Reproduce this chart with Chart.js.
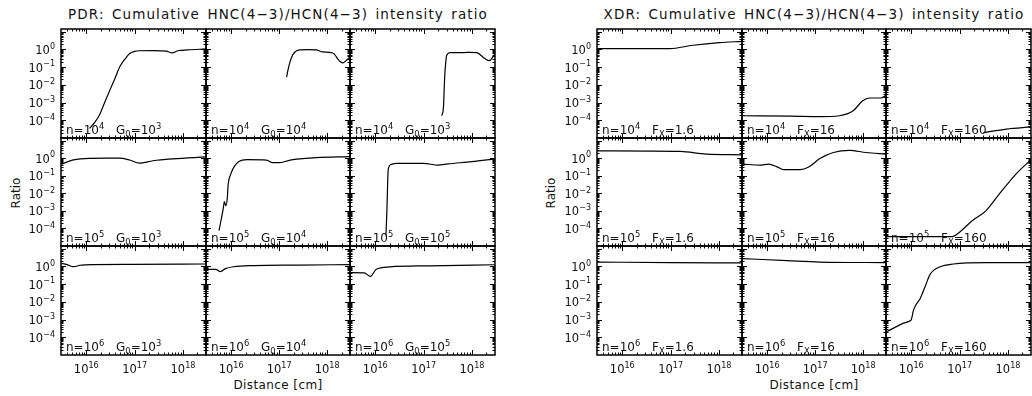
<!DOCTYPE html>
<html>
<head>
<meta charset="utf-8">
<script src="https://cdn.jsdelivr.net/npm/chart.js@4.4.1/dist/chart.umd.min.js"></script>
<style>
  body { margin: 0; background: #fff; }
  #wrap { position: relative; width: 1032px; height: 396px; overflow: hidden; background: #fff;
          font-family: "DejaVu Sans", sans-serif; color: #000; }
  #wrap canvas { position: absolute; }
  .title { position: absolute; top: 6px; width: 520px; text-align: center; font-size: 13.5px;
           letter-spacing: 1.1px; word-spacing: 2px; white-space: nowrap; line-height: 16px; color: #111; }
  .ylab { position: absolute; font-size: 12px; white-space: nowrap; color: #111;
          transform: translate(-50%, -50%) rotate(-90deg); }
  .xlab { position: absolute; font-size: 12px; white-space: nowrap; transform: translate(-50%, -50%);
          letter-spacing: 0.4px; color: #111; }
</style>
</head>
<body>
<div id="wrap">
  <div class="title" style="left:18px">PDR: Cumulative HNC(4&minus;3)/HCN(4&minus;3) intensity ratio</div>
  <div class="title" style="left:554px">XDR: Cumulative HNC(4&minus;3)/HCN(4&minus;3) intensity ratio</div>
  <div class="ylab" style="left:16px; top:193px">Ratio</div>
  <div class="ylab" style="left:551px; top:193px">Ratio</div>
  <div class="xlab" style="left:278px; top:385px">Distance [cm]</div>
  <div class="xlab" style="left:814px; top:385px">Distance [cm]</div>
</div>
<script>
// axis ranges and labelled ticks
const xMin = 3e15, xMax = 3e18;
const yMin = 1e-5, yMax = 14;
const xTickLabels = [1e16, 1e17, 1e18];
const yTickLabels = [1e-4, 1e-3, 1e-2, 1e-1, 1e0];

// panel labels
const densExp = ['4', '5', '6'];
const pdrG0Exp = [['3', '4', '3'], ['3', '4', '5'], ['3', '4', '5']];
const xdrFx = ['1.6', '16', '160'];

// PDR, n=1e4
const pdrN4aX = [1.17e16, 1.51e16, 1.91e16, 2.4e16, 3.05e16, 3.9e16, 4.9e16, 6.3e16, 7.9e16, 1e17, 1.26e17, 2.5e17, 4.5e17, 6.0e17, 7.9e17, 1.26e18, 2.95e18];
const pdrN4aY = [3.5e-5, 7.9e-5, 2.2e-4, 1e-3, 4.7e-3, 0.022, 0.1, 0.28, 0.58, 0.76, 0.83, 0.85, 0.79, 0.63, 0.83, 0.93, 1.05];
const pdrN4bX = [1.43e17, 1.58e17, 1.82e17, 2.14e17, 2.7e17, 4.0e17, 5.9e17, 8.1e17, 1.32e18, 1.78e18, 2.1e18, 2.6e18, 2.95e18];
const pdrN4bY = [0.027, 0.1, 0.36, 0.71, 0.93, 0.95, 0.93, 0.71, 0.62, 0.23, 0.17, 0.26, 0.36];
const pdrN4cX = [2.37e17, 2.57e17, 2.66e17, 2.75e17, 2.88e17, 3.0e17, 3.55e17, 6.6e17, 8.9e17, 1.26e18, 1.86e18, 2.3e18, 2.75e18, 2.95e18];
const pdrN4cY = [1.8e-4, 5.2e-4, 5e-3, 0.042, 0.2, 0.46, 0.65, 0.65, 0.68, 0.65, 0.3, 0.23, 0.4, 0.5];
// PDR, n=1e5
const pdrN5aX = [3.05e15, 5.4e15, 1.17e16, 2.5e16, 4.9e16, 7.9e16, 1.26e17, 2.4e17, 6.2e17, 2.95e18];
const pdrN5aY = [0.46, 0.79, 0.98, 1.0, 1.0, 0.78, 0.52, 0.71, 0.91, 1.17];
const pdrN5bX = [5.6e15, 7.1e15, 7.2e15, 7.8e15, 8.3e15, 8.7e15, 9.8e15, 1.15e16, 1.45e16, 2.14e16, 5.5e16, 7.1e16, 1.05e17, 1.7e17, 5.9e17, 2.9e18];
const pdrN5bY = [7.4e-5, 2.5e-3, 3.4e-3, 1.95e-3, 4.7e-3, 0.033, 0.12, 0.32, 0.65, 0.83, 0.78, 0.56, 0.56, 0.78, 1.07, 1.23];
const pdrN5cX = [1.66e16, 1.74e16, 1.8e16, 1.86e16, 2.14e16, 2.8e16, 1e17, 2e17, 3.2e17, 1e18, 2.95e18];
const pdrN5cY = [4e-5, 1e-3, 0.032, 0.25, 0.44, 0.5, 0.5, 0.4, 0.47, 0.63, 0.9];
// PDR, n=1e6
const pdrN6aX = [3.05e15, 3.9e15, 5.5e15, 7.4e15, 1.38e16, 9.1e16, 2.95e18];
const pdrN6aY = [1.48, 1.29, 0.95, 1.15, 1.26, 1.29, 1.35];
const pdrN6bX = [3.1e15, 4.8e15, 6.0e15, 7.6e15, 1.12e16, 2.95e16, 2.7e17, 2.95e18];
const pdrN6bY = [0.68, 0.68, 0.5, 0.74, 0.95, 1.1, 1.17, 1.26];
const pdrN6cX = [3.05e15, 5.9e15, 7.9e15, 1.05e16, 2.0e16, 1.35e17, 2.95e18];
const pdrN6cY = [0.44, 0.43, 0.27, 0.68, 0.93, 1.07, 1.23];

// XDR, n=1e4
const xdrN4aX = [3.05e15, 3.2e16, 9.5e16, 2.9e17, 1.02e18, 2.95e18];
const xdrN4aY = [1.1, 1.1, 1.1, 1.7, 2.4, 2.8];
const xdrN4bX = [3.05e15, 3.2e16, 1.26e17, 3.2e17, 6.2e17, 9.8e17, 1.35e18, 2.35e18, 2.95e18];
const xdrN4bY = [1.8e-4, 1.7e-4, 1.6e-4, 1.8e-4, 3.4e-4, 1.26e-3, 1.8e-3, 1.8e-3, 2.45e-3];
const xdrN4cX = [3.1e17, 9.3e17, 2.95e18];
const xdrN4cY = [2e-5, 3.2e-5, 4.2e-5];
// XDR, n=1e5
const xdrN5aX = [3.05e15, 1.58e17, 5.5e17, 2.95e18];
const xdrN5aY = [2.6, 2.4, 1.7, 1.55];
const xdrN5bX = [3.05e15, 7.2e15, 1.07e16, 1.62e16, 2.2e16, 4.9e16, 7.2e16, 1.26e17, 2.4e17, 5.2e17, 1.15e18, 2.95e18];
const xdrN5bY = [0.46, 0.4, 0.46, 0.32, 0.22, 0.22, 0.3, 0.95, 2.1, 2.8, 2.1, 1.7];
const xdrN5cX = [3.15e15, 7.1e16, 9.8e16, 1.82e17, 3.5e17, 6.6e17, 1.45e18, 2.95e18];
const xdrN5cY = [3.4e-5, 3.4e-5, 5.9e-5, 2.75e-4, 1e-3, 8.9e-3, 0.12, 0.79];
// XDR, n=1e6
const xdrN6aX = [3.05e15, 1e17, 2.95e18];
const xdrN6aY = [1.74, 1.62, 1.55];
const xdrN6bX = [3.05e15, 2.6e16, 1.26e17, 2.95e18];
const xdrN6bY = [2.75, 2.1, 1.74, 1.62];
const xdrN6cX = [3.15e15, 6.9e15, 9.5e15, 1.0e16, 1.12e16, 1.55e16, 1.95e16, 2.45e16, 4.0e16, 7.4e16, 3.6e17, 2.95e18];
const xdrN6cY = [2.1e-4, 6.3e-4, 8.5e-4, 9.8e-4, 3.6e-3, 0.0166, 0.076, 0.35, 0.95, 1.35, 1.62, 1.62];

const pdrX = [[pdrN4aX, pdrN4bX, pdrN4cX], [pdrN5aX, pdrN5bX, pdrN5cX], [pdrN6aX, pdrN6bX, pdrN6cX]];
const pdrY = [[pdrN4aY, pdrN4bY, pdrN4cY], [pdrN5aY, pdrN5bY, pdrN5cY], [pdrN6aY, pdrN6bY, pdrN6cY]];
const xdrX = [[xdrN4aX, xdrN4bX, xdrN4cX], [xdrN5aX, xdrN5bX, xdrN5cX], [xdrN6aX, xdrN6bX, xdrN6cX]];
const xdrY = [[xdrN4aY, xdrN4bY, xdrN4cY], [xdrN5aY, xdrN5bY, xdrN5cY], [xdrN6aY, xdrN6bY, xdrN6cY]];

const PANEL_W = 144.5;
const PANEL_H = 108.67;
const FONT = '"DejaVu Sans", sans-serif';
const TICK_SIZE = 11.5;
const NOTE_SIZE = 12;

// text in runs, so exponents and subscripts can be drawn
function drawRuns(ctx, runs, x, y, size) {
  for (let run of runs) {
    let fs = run.s ? size * 0.7 : size;
    let dy = 0;
    if (run.s == 'sup') dy = -size * 0.45;
    if (run.s == 'sub') dy = size * 0.28;
    ctx.font = fs + 'px ' + FONT;
    ctx.fillText(run.t, x, y + dy);
    x += ctx.measureText(run.t).width;
  }
  return x;
}

function runsWidth(ctx, runs, size) {
  let w = 0;
  for (let run of runs) {
    ctx.font = (run.s ? size * 0.7 : size) + 'px ' + FONT;
    w += ctx.measureText(run.t).width;
  }
  return w;
}

function powRuns(v) {
  let e = Math.round(Math.log10(v));
  return [{ t: '10' }, { t: String(e).replace('-', '\u2212'), s: 'sup' }];
}

// all 1..9 x 10^n values inside a range, for the tick marks
function logTickValues(min, max) {
  let vals = [];
  for (let e = Math.floor(Math.log10(min)); e <= Math.ceil(Math.log10(max)); e++) {
    for (let m = 1; m <= 9; m++) {
      let v = m * Math.pow(10, e);
      if (v > min * 1.0001 && v < max * 0.9999) vals.push({ v: v, major: m == 1 });
    }
  }
  return vals;
}

const idlFrame = {
  id: 'idlFrame',
  afterDatasetsDraw(chart, args, opts) {
    const ctx = chart.ctx;
    const a = chart.chartArea;
    const xs = chart.scales.x;
    const ys = chart.scales.y;
    ctx.save();
    ctx.strokeStyle = '#000';
    ctx.fillStyle = '#111';

    ctx.lineWidth = 1;
    ctx.beginPath();
    for (let t of logTickValues(xMin, xMax)) {
      let px = Math.round(xs.getPixelForValue(t.v)) + 0.5;
      let len = t.major ? 5 : 2.5;
      ctx.moveTo(px, a.bottom); ctx.lineTo(px, a.bottom - len);
      ctx.moveTo(px, a.top); ctx.lineTo(px, a.top + len);
    }
    for (let t of logTickValues(yMin, yMax)) {
      let py = Math.round(ys.getPixelForValue(t.v)) + 0.5;
      let len = t.major ? 5 : 2.5;
      ctx.moveTo(a.left, py); ctx.lineTo(a.left + len, py);
      ctx.moveTo(a.right, py); ctx.lineTo(a.right - len, py);
    }
    ctx.stroke();

    ctx.lineWidth = 1.5;
    ctx.strokeRect(a.left, a.top, a.right - a.left, a.bottom - a.top);

    ctx.textBaseline = 'alphabetic';
    ctx.textAlign = 'left';
    if (opts.showY) {
      for (let v of yTickLabels) {
        let runs = powRuns(v);
        let w = runsWidth(ctx, runs, TICK_SIZE);
        let py = ys.getPixelForValue(v);
        drawRuns(ctx, runs, a.left - 6 - w, py + 4.5, TICK_SIZE);
      }
    }
    if (opts.showX) {
      for (let v of xTickLabels) {
        let runs = powRuns(v);
        let w = runsWidth(ctx, runs, TICK_SIZE);
        let px = xs.getPixelForValue(v);
        drawRuns(ctx, runs, px - w / 2, a.bottom + 18, TICK_SIZE);
      }
    }
    drawRuns(ctx, opts.note1, a.left + 5, a.bottom - 4, NOTE_SIZE);
    drawRuns(ctx, opts.note2, a.left + 55, a.bottom - 4, NOTE_SIZE);
    ctx.restore();
  }
};

function makePanel(gridLeft, gridTop, row, col, xArr, yArr, note1, note2) {
  let x0 = Math.round(gridLeft + col * PANEL_W);
  let x1 = Math.round(gridLeft + (col + 1) * PANEL_W);
  let y0 = Math.round(gridTop + row * PANEL_H);
  let y1 = Math.round(gridTop + (row + 1) * PANEL_H);
  let padL = col == 0 ? 52 : 3;
  let padB = row == 2 ? 28 : 3;
  let pad = 3;
  let w = (x1 - x0) + padL + pad;
  let h = (y1 - y0) + pad + padB;

  let canvas = document.createElement('canvas');
  canvas.width = w;
  canvas.height = h;
  canvas.style.width = w + 'px';
  canvas.style.height = h + 'px';
  canvas.style.left = (x0 - padL) + 'px';
  canvas.style.top = (y0 - pad) + 'px';
  document.getElementById('wrap').appendChild(canvas);

  let points = [];
  for (let i = 0; i < xArr.length; i++) {
    points.push({ x: xArr[i], y: yArr[i] });
  }

  new Chart(canvas, {
    type: 'scatter',
    data: {
      datasets: [
        {
          data: points,
          showLine: true,
          borderColor: '#000',
          borderWidth: 1.2,
          pointRadius: 0,
          cubicInterpolationMode: 'monotone',
        },
      ],
    },
    options: {
      responsive: false,
      animation: false,
      devicePixelRatio: 1,
      layout: {
        padding: { left: padL, right: pad, top: pad, bottom: padB },
      },
      scales: {
        x: { type: 'logarithmic', min: xMin, max: xMax, display: false },
        y: { type: 'logarithmic', min: yMin, max: yMax, display: false },
      },
      plugins: {
        legend: { display: false },
        tooltip: { enabled: false },
        idlFrame: { showY: col == 0, showX: row == 2, note1: note1, note2: note2 },
      },
    },
    plugins: [idlFrame],
  });
}

for (let r = 0; r < 3; r++) {
  for (let c = 0; c < 3; c++) {
    let n1 = [{ t: 'n=10' }, { t: densExp[r], s: 'sup' }];
    let pdrNote = [{ t: 'G' }, { t: '0', s: 'sub' }, { t: '=10' }, { t: pdrG0Exp[r][c], s: 'sup' }];
    let xdrNote = [{ t: 'F' }, { t: 'X', s: 'sub' }, { t: '=' + xdrFx[c] }];
    makePanel(61, 29, r, c, pdrX[r][c], pdrY[r][c], n1, pdrNote);
    makePanel(597, 29, r, c, xdrX[r][c], xdrY[r][c], n1, xdrNote);
  }
}
</script>
</body>
</html>
